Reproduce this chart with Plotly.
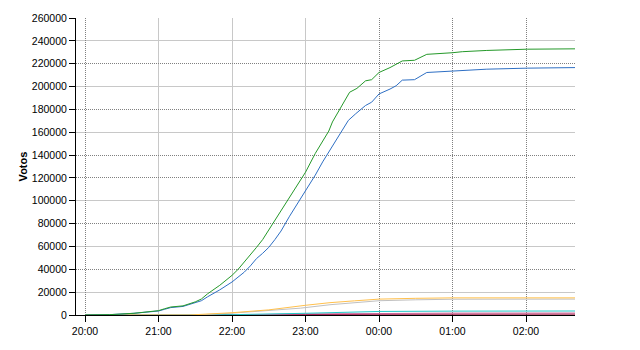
import plotly.graph_objects as go

DAY1 = "2011-05-22 "
DAY2 = "2011-05-23 "

def ts(hm):
    h = int(hm.split(":")[0])
    return (DAY1 if h >= 12 else DAY2) + hm

# ---- data ----
green_t = ["20:00", "20:20", "20:40", "20:50", "21:00", "21:05", "21:10", "21:20", "21:30", "21:35",
           "21:40", "21:50", "22:00", "22:05", "22:10", "22:15", "22:20", "22:25", "22:30", "22:35",
           "22:39", "22:47", "22:55", "23:00", "23:08", "23:14", "23:19", "23:22", "23:28", "23:36",
           "23:42", "23:49", "23:54", "00:00", "00:09", "00:14", "00:19", "00:29", "00:39", "01:00",
           "01:08", "01:28", "02:01", "02:40"]
green_v = [0, 300, 1500, 2500, 3800, 5500, 7000, 8000, 11500, 14000,
           18500, 26000, 34700, 40000, 46200, 53000, 59200, 66000, 74500, 82000,
           90000, 102500, 116500, 125000, 141500, 152000, 161000, 169000, 180500, 195000,
           198400, 205000, 206000, 212300, 216600, 219500, 222400, 223000, 228200, 229600,
           230500, 231600, 232700, 233000]

blue_t = ["20:00", "20:20", "20:40", "20:50", "21:00", "21:05", "21:10", "21:20", "21:30", "21:35",
          "21:40", "21:50", "22:00", "22:05", "22:10", "22:15", "22:20", "22:25", "22:30", "22:35",
          "22:40", "22:47", "22:55", "23:00", "23:08", "23:14", "23:20", "23:28", "23:35", "23:41",
          "23:49", "23:54", "00:00", "00:09", "00:14", "00:19", "00:29", "00:39", "01:00", "01:08",
          "01:28", "02:01", "02:40"]
blue_v = [0, 300, 1500, 2500, 3500, 5000, 6500, 7500, 10400, 12500,
          15900, 22000, 28900, 33000, 37500, 43000, 49400, 54000, 59200, 66000,
          73500, 86500, 100500, 108000, 122500, 134000, 144500, 158800, 170400, 176200,
          183400, 186300, 193500, 197800, 200700, 205600, 206000, 212300, 213700, 214300,
          215200, 216100, 216600]

orange_t = ["20:00", "21:25", "22:00", "22:30", "23:00", "23:20", "23:40", "00:00", "00:30", "01:00", "02:40"]
orange_v = [0, 0, 2000, 4500, 8500, 10800, 12400, 13900, 14600, 15000, 15000]

gray_t = ["20:00", "21:30", "22:00", "22:30", "22:56", "23:20", "23:40", "00:00", "00:30", "01:00", "02:40"]
gray_v = [0, 0, 1600, 3800, 6000, 9000, 11000, 12500, 13300, 13800, 13900]

cyan_t = ["20:00", "21:30", "22:00", "23:00", "23:40", "00:00", "01:00", "02:40"]
cyan_v = [0, 0, 300, 1500, 2800, 3100, 3400, 3500]

pink_t = ["20:00", "21:40", "22:00", "23:00", "00:00", "01:00", "02:40"]
pink_v = [0, 0, 100, 900, 1500, 1650, 1700]

red_t = ["20:00", "22:00", "22:30", "23:00", "00:00", "01:00", "02:40"]
red_v = [0, 0, 100, 400, 700, 780, 800]

x_tick_labels = ["20:00", "21:00", "22:00", "23:00", "00:00", "01:00", "02:00"]
x_grid_solid = ["21:00", "22:00", "23:00", "02:40"]
x_grid_dot = ["20:00", "00:00", "01:00", "02:00"]
y_ticks = list(range(0, 260001, 20000))
y_grid_solid = [20000, 60000, 100000, 160000, 200000, 240000]
y_grid_dot = [40000, 80000, 120000, 140000, 180000, 220000, 260000]

x_range = [DAY1 + "19:52:39", DAY2 + "02:40:00"]
y_range = [0, 260000]

series = [
    (red_t, red_v, "#990033"),
    (pink_t, pink_v, "#cc6699"),
    (cyan_t, cyan_v, "#22c8c8"),
    (gray_t, gray_v, "#c0c0c0"),
    (orange_t, orange_v, "#ffc04c"),
    (blue_t, blue_v, "#2e6fc4"),
    (green_t, green_v, "#25992a"),
]

fig = go.Figure()
for t, v, c in series:
    fig.add_trace(go.Scatter(x=[ts(s) for s in t], y=v, mode="lines",
                             line=dict(color=c, width=1), showlegend=False,
                             xaxis="x", yaxis="y"))
# empty traces so the grid overlay axes get drawn
fig.add_trace(go.Scatter(x=[], y=[], xaxis="x2", yaxis="y2", showlegend=False))
fig.add_trace(go.Scatter(x=[], y=[], xaxis="x3", yaxis="y3", showlegend=False))

font = dict(family="Liberation Sans, Arial, sans-serif", size=10.5, color="#000000")

fig.update_layout(
    width=640, height=350,
    margin=dict(l=76, r=65, t=15, b=35),
    paper_bgcolor="white", plot_bgcolor="white",
    font=font,
    xaxis=dict(type="date", range=x_range, tickmode="array",
               tickvals=[ts(s) for s in x_tick_labels], ticktext=x_tick_labels,
               showgrid=False, zeroline=False, showline=True, linecolor="black", linewidth=1,
               ticks="outside", ticklen=6, tickcolor="black", tickfont=font),
    yaxis=dict(range=y_range, tickmode="array", tickvals=y_ticks,
               ticktext=[str(v) for v in y_ticks],
               showgrid=False, zeroline=False, showline=True, linecolor="black", linewidth=1,
               ticks="outside", ticklen=6, tickcolor="black", tickfont=font,
               title=dict(text="<b>Votos</b>", font=dict(family="Liberation Sans, Arial, sans-serif", size=11), standoff=2)),
    xaxis2=dict(type="date", range=x_range, overlaying="x", anchor="y2", tickmode="array",
                tickvals=[ts(s) for s in x_grid_solid], showticklabels=False, ticks="",
                showgrid=True, gridcolor="#c8c8c8", gridwidth=1, showline=False, zeroline=False),
    yaxis2=dict(range=y_range, overlaying="y", anchor="x2", tickmode="array",
                tickvals=y_grid_solid, showticklabels=False, ticks="",
                showgrid=True, gridcolor="#c8c8c8", gridwidth=1, showline=False, zeroline=False),
    xaxis3=dict(type="date", range=x_range, overlaying="x", anchor="y3", tickmode="array",
                tickvals=[ts(s) for s in x_grid_dot], showticklabels=False, ticks="",
                showgrid=True, gridcolor="#808080", gridwidth=1, griddash="1px,1px",
                showline=False, zeroline=False),
    yaxis3=dict(range=y_range, overlaying="y", anchor="x3", tickmode="array",
                tickvals=y_grid_dot, showticklabels=False, ticks="",
                showgrid=True, gridcolor="#808080", gridwidth=1, griddash="1px,1px",
                showline=False, zeroline=False),
)

fig.write_html("out.html")
